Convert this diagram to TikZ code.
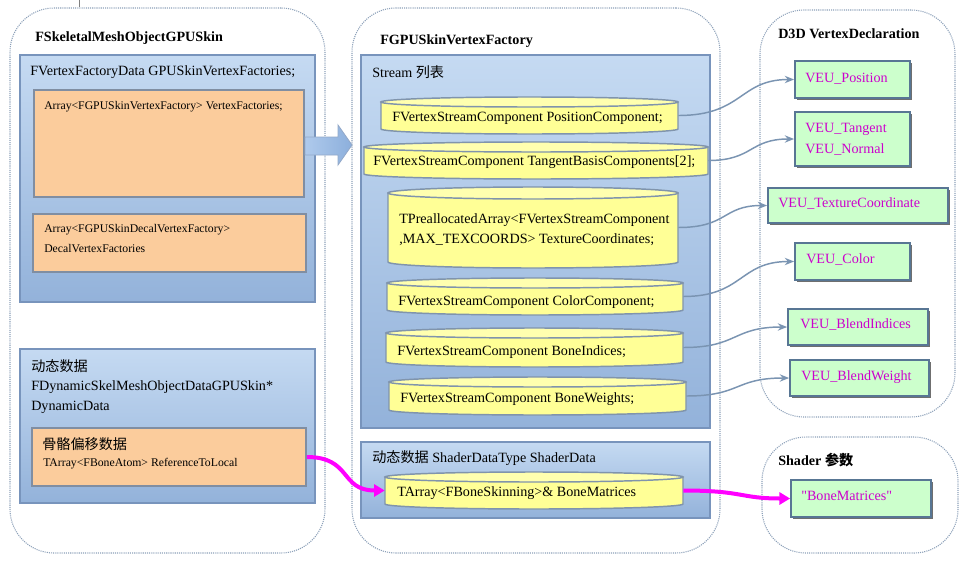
\documentclass[tikz,border=0pt]{standalone}
\usepackage{fontspec}
\setmainfont{Liberation Serif}
\newfontfamily\cjk{Noto Sans CJK SC}
\usetikzlibrary{arrows.meta,shadows,fit}

\definecolor{dotc}{RGB}{140,160,185}
\definecolor{bluetop}{RGB}{197,218,242}
\definecolor{bluebot}{RGB}{147,178,218}
\definecolor{blueedge}{RGB}{120,148,188}
\definecolor{orangef}{RGB}{251,204,156}
\definecolor{orangeedge}{RGB}{128,142,162}
\definecolor{cylf}{RGB}{255,255,150}
\definecolor{cyltop}{RGB}{255,255,175}
\definecolor{cyledge}{RGB}{128,148,172}
\definecolor{greenf}{RGB}{204,255,204}
\definecolor{greenedge}{RGB}{88,118,148}
\definecolor{magt}{RGB}{204,0,204}
\definecolor{connc}{RGB}{122,148,178}
\definecolor{magl}{RGB}{255,0,255}
\definecolor{arrl}{RGB}{175,202,236}
\definecolor{arrr}{RGB}{140,175,220}

\tikzset{
  container/.style={draw=dotc, line width=0.8pt, dash pattern=on 0.8pt off 0.8pt, rounded corners=33pt, inner sep=0pt},
  bluebox/.style={draw=blueedge, line width=1.3pt, top color=bluetop, bottom color=bluebot, inner sep=0pt},
  orangebox/.style={draw=orangeedge, line width=1.3pt, fill=orangef, inner sep=0pt},
  greenbox/.style={draw=greenedge, line width=1.3pt, fill=greenf, inner sep=0pt,
    drop shadow={shadow xshift=1.6pt, shadow yshift=-1.6pt, fill=black!70, opacity=0.8}},
  txt/.style={anchor=west, inner sep=0pt, font=\fontsize{10.6}{12}\selectfont},
  smalltxt/.style={anchor=west, inner sep=0pt, font=\fontsize{8.8}{10}\selectfont},
  ttl/.style={anchor=west, inner sep=0pt, font=\fontsize{10.6}{12}\selectfont\bfseries},
  mtxt/.style={anchor=west, inner sep=0pt, text=magt, font=\fontsize{10.6}{12}\selectfont},
  connline/.style={draw=connc, line width=1.1pt, -{Stealth[length=7pt,width=5.5pt]}},
  magline/.style={draw=magl, line width=3pt, -{Triangle[length=8pt,width=9pt]}},
}

\newcommand\cylnode[6]{%
  \path[draw=cyledge, line width=1.1pt, fill=cylf] (#2,#3+#6) -- (#2,#5-#6)
    arc[start angle=180, end angle=360, x radius={(#4-#2)*0.375pt}, y radius={#6*0.75pt}]
    -- (#4,#3+#6) -- cycle;
  \path[draw=cyledge, line width=1.1pt, fill=cyltop] ({(#2+#4)/2},#3+#6)
    ellipse[x radius={(#4-#2)*0.375pt}, y radius={#6*0.75pt}];
  \node[fit={(#2,#3) (#4,#5)}, inner sep=0pt] (#1) {};
}

\begin{document}
\begin{tikzpicture}[x=0.75pt,y=-0.75pt]
\useasboundingbox[fill=white] (0,0) rectangle (980,560);

% small tick at top
\draw[draw=gray, line width=0.6pt] (79,0) -- (79,7);

% ---------- containers ----------
\node[container, fit={(10,8) (325,553)}] (cont1) {};
\node[container, fit={(352,8) (720,553)}] (cont2) {};
\node[container, fit={(760,10) (955,417)}] (cont3) {};
\node[container, fit={(762,437) (958,553)}] (cont4) {};

\node[ttl] (t1) at (35,38) {FSkeletalMeshObjectGPUSkin};
\node[ttl] (t2) at (380,41) {FGPUSkinVertexFactory};
\node[ttl] (t3) at (778,34) {D3D VertexDeclaration};
\node[ttl] (t4) at (778,460) {Shader {\cjk\bfseries 参数}};

% ---------- left container ----------
\node[bluebox, fit={(20,55) (315,302)}] (vfd) {};
\node[txt] (vfdt) at (30,72) {FVertexFactoryData GPUSkinVertexFactories;};
\node[orangebox, fit={(34,90) (304,197)}] (o1) {};
\node[smalltxt] (o1t) at (44,107) {Array<FGPUSkinVertexFactory> VertexFactories;};
\node[orangebox, fit={(33,214) (306,272)}] (o2) {};
\node[smalltxt] (o2ta) at (44,230) {Array<FGPUSkinDecalVertexFactory>};
\node[smalltxt] (o2tb) at (44,249) {DecalVertexFactories};

\node[bluebox, fit={(20,349) (315,503)}] (dyn) {};
\node[txt] (dynta) at (31,366) {\cjk 动态数据};
\node[txt] (dyntb) at (31,387) {FDynamicSkelMeshObjectDataGPUSkin*};
\node[txt] (dyntc) at (31,407) {DynamicData};
\node[orangebox, fit={(32,428) (306,486)}] (o3) {};
\node[txt] (o3ta) at (42,444) {\cjk 骨骼偏移数据};
\node[smalltxt] (o3tb) at (43,464) {TArray<FBoneAtom> ReferenceToLocal};

% block arrow
\path[draw=blueedge!80, line width=0.6pt, left color=arrl, right color=arrr]
  (305,137) -- (338,137) -- (338,125) -- (352,145) -- (338,165) -- (338,155) -- (305,155) -- cycle;

% ---------- middle container ----------
\node[bluebox, fit={(361,55) (710,428)}] (stream) {};
\node[txt] (streamt) at (372,72) {Stream {\cjk 列表}};

\cylnode{c1}{381}{97}{678}{134}{5}
\node[txt] (c1t) at (392,118) {FVertexStreamComponent PositionComponent;};
\cylnode{c2}{364}{142}{708}{179}{5}
\node[txt] (c2t) at (373,162) {FVertexStreamComponent TangentBasisComponents[2];};
\cylnode{c3}{388}{187}{678}{268}{6}
\node[txt] (c3ta) at (399,220) {TPreallocatedArray<FVertexStreamComponent};
\node[txt] (c3tb) at (399,240) {,MAX\_TEXCOORDS> TextureCoordinates;};
\cylnode{c4}{387}{278}{683}{315}{5}
\node[txt] (c4t) at (398,302) {FVertexStreamComponent ColorComponent;};
\cylnode{c5}{386}{328}{683}{367}{5}
\node[txt] (c5t) at (397,352) {FVertexStreamComponent BoneIndices;};
\cylnode{c6}{389}{377}{686}{415}{5}
\node[txt] (c6t) at (400,399) {FVertexStreamComponent BoneWeights;};

\node[bluebox, fit={(361,442) (710,518)}] (shd) {};
\node[txt] (shdt) at (372,458) {{\cjk 动态数据} ShaderDataType ShaderData};
\cylnode{c7}{385}{472}{683}{509}{5}
\node[txt] (c7t) at (397,493) {TArray<FBoneSkinning>\& BoneMatrices};

% ---------- right containers ----------
\node[greenbox, fit={(795,61) (910,98)}] (g1) {};
\node[mtxt] (g1t) at (805,79) {VEU\_Position};
\node[greenbox, fit={(795,112) (910,166)}] (g2) {};
\node[mtxt] (g2ta) at (805,129) {VEU\_Tangent};
\node[mtxt] (g2tb) at (805,150) {VEU\_Normal};
\node[greenbox, fit={(768,188) (948,223)}] (g3) {};
\node[mtxt] (g3t) at (778,204) {VEU\_TextureCoordinate};
\node[greenbox, fit={(795,243) (910,280)}] (g4) {};
\node[mtxt] (g4t) at (806,260) {VEU\_Color};
\node[greenbox, fit={(788,309) (928,345)}] (g5) {};
\node[mtxt] (g5t) at (800,325) {VEU\_BlendIndices};
\node[greenbox, fit={(790,360) (929,396)}] (g6) {};
\node[mtxt] (g6t) at (801,377) {VEU\_BlendWeight};

\node[greenbox, fit={(791,480) (931,517)}] (bm) {};
\node[mtxt] (bmt) at (801,496) {\textquotedbl BoneMatrices\textquotedbl};

% ---------- connectors ----------
\draw[connline] (c1.east) .. controls +(65,0) and +(-55,0) .. (g1.west);
\draw[connline] (c2.east) .. controls +(45,0) and +(-45,0) .. (g2.west);
\draw[connline] (c3.east) .. controls +(50,0) and +(-45,0) .. (g3.west);
\draw[connline] (c4.east) .. controls +(60,0) and +(-55,0) .. (g4.west);
\draw[connline] (c5.east) .. controls +(55,0) and +(-55,0) .. (g5.west);
\draw[connline] (c6.east) .. controls +(55,0) and +(-55,0) .. (g6.west);

\draw[magline] (o3.east) .. controls +(45,0) and +(-45,0) .. (c7.west);
\draw[magline] (c7.east) .. controls +(60,0) and +(-50,0) .. (bm.west);
\end{tikzpicture}
\end{document}
